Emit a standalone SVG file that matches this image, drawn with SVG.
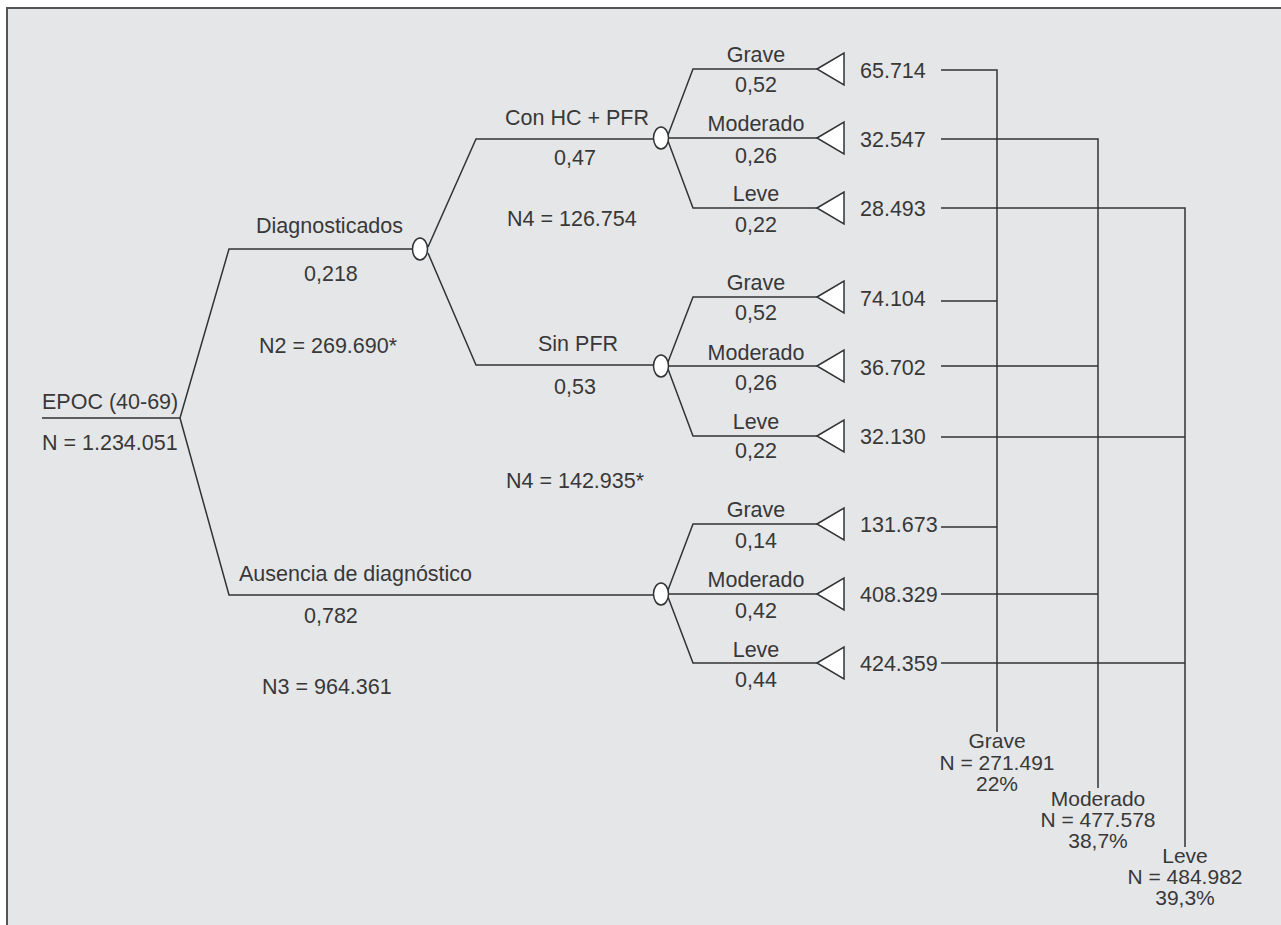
<svg xmlns="http://www.w3.org/2000/svg" width="1281" height="925" viewBox="0 0 1281 925">
<style>
text{font-family:"Liberation Sans",Arial,sans-serif;font-size:21.5px;fill:#383838}
.m{text-anchor:middle}
.s{font-size:21px}
.ln{fill:none;stroke:#333;stroke-width:1.5}
</style>
<defs>
<polygon id="tri" points="0,0 27,-16 27,16" fill="#fff" stroke="#333" stroke-width="1.5"/>
<ellipse id="ch" rx="7.5" ry="11" fill="#fff" stroke="#333" stroke-width="1.5"/>
</defs>
<rect x="0" y="0" width="1281" height="925" fill="#fff"/>
<rect x="7" y="8" width="1280" height="925" fill="#e5e6e8"/>
<path d="M7 925 V8 H1281" fill="none" stroke="#555" stroke-width="2"/>

<g id="connectors" class="ln">
<path d="M42 418 H180 L229 249 H412"/>
<path d="M180 418 L229 595 H653"/>
<path d="M428 247 L476 139 H653"/>
<path d="M428 253 L476 365 H653"/>
<path d="M668 135 L693 69 H817 M668 138 H817 M668 141 L693 208 H817"/>
<path d="M668 362 L693 297 H817 M668 366 H817 M668 369 L693 436 H817"/>
<path d="M668 590 L693 524 H817 M668 594 H817 M668 597 L693 663 H817"/>
<path d="M941 70 H997 V732"/>
<path d="M941 139 H1098 V788"/>
<path d="M941 208 H1185 V847"/>
<path d="M941 301 H997 M941 366 H1098 M941 437 H1185"/>
<path d="M941 527 H997 M941 594 H1098 M941 663 H1185"/>
</g>

<g id="root">
<text x="42" y="409">EPOC (40-69)</text>
<text x="42" y="450">N = 1.234.051</text>
</g>

<g id="diagnosticados">
<text x="256" y="233">Diagnosticados</text>
<text x="304" y="281">0,218</text>
<text x="259" y="353">N2 = 269.690*</text>
<use href="#ch" x="420" y="249"/>
</g>

<g id="ausencia">
<text x="239" y="581">Ausencia de diagnóstico</text>
<text x="304" y="623">0,782</text>
<text x="262" y="694">N3 = 964.361</text>
<use href="#ch" x="661" y="594"/>
</g>

<g id="conhc">
<text x="505" y="125">Con HC + PFR</text>
<text x="554" y="165">0,47</text>
<text x="507" y="226">N4 = 126.754</text>
<use href="#ch" x="661" y="138"/>
</g>

<g id="sinpfr">
<text x="538" y="351">Sin PFR</text>
<text x="554" y="394">0,53</text>
<text x="506" y="488">N4 = 142.935*</text>
<use href="#ch" x="661" y="366"/>
</g>

<g id="leaves1">
<text class="m" x="756" y="62">Grave</text>
<text class="m" x="756" y="92">0,52</text>
<text class="m" x="756" y="131">Moderado</text>
<text class="m" x="756" y="163">0,26</text>
<text class="m" x="756" y="201">Leve</text>
<text class="m" x="756" y="232">0,22</text>
<use href="#tri" x="817" y="69"/>
<use href="#tri" x="817" y="138"/>
<use href="#tri" x="817" y="208"/>
<text x="860" y="78">65.714</text>
<text x="860" y="147">32.547</text>
<text x="860" y="216">28.493</text>
</g>

<g id="leaves2">
<text class="m" x="756" y="290">Grave</text>
<text class="m" x="756" y="320">0,52</text>
<text class="m" x="756" y="360">Moderado</text>
<text class="m" x="756" y="390">0,26</text>
<text class="m" x="756" y="429">Leve</text>
<text class="m" x="756" y="458">0,22</text>
<use href="#tri" x="817" y="297"/>
<use href="#tri" x="817" y="366"/>
<use href="#tri" x="817" y="436"/>
<text x="860" y="306">74.104</text>
<text x="860" y="375">36.702</text>
<text x="860" y="444">32.130</text>
</g>

<g id="leaves3">
<text class="m" x="756" y="517">Grave</text>
<text class="m" x="756" y="548">0,14</text>
<text class="m" x="756" y="587">Moderado</text>
<text class="m" x="756" y="618">0,42</text>
<text class="m" x="756" y="657">Leve</text>
<text class="m" x="756" y="687">0,44</text>
<use href="#tri" x="817" y="524"/>
<use href="#tri" x="817" y="594"/>
<use href="#tri" x="817" y="663"/>
<text x="860" y="532">131.673</text>
<text x="860" y="602">408.329</text>
<text x="860" y="671">424.359</text>
</g>

<g id="sum-grave">
<text class="m s" x="997" y="748">Grave</text>
<text class="m s" x="997" y="770">N = 271.491</text>
<text class="m s" x="997" y="791">22%</text>
</g>
<g id="sum-moderado">
<text class="m s" x="1098" y="806">Moderado</text>
<text class="m s" x="1098" y="827">N = 477.578</text>
<text class="m s" x="1098" y="848">38,7%</text>
</g>
<g id="sum-leve">
<text class="m s" x="1185" y="863">Leve</text>
<text class="m s" x="1185" y="884">N = 484.982</text>
<text class="m s" x="1185" y="905">39,3%</text>
</g>
</svg>
